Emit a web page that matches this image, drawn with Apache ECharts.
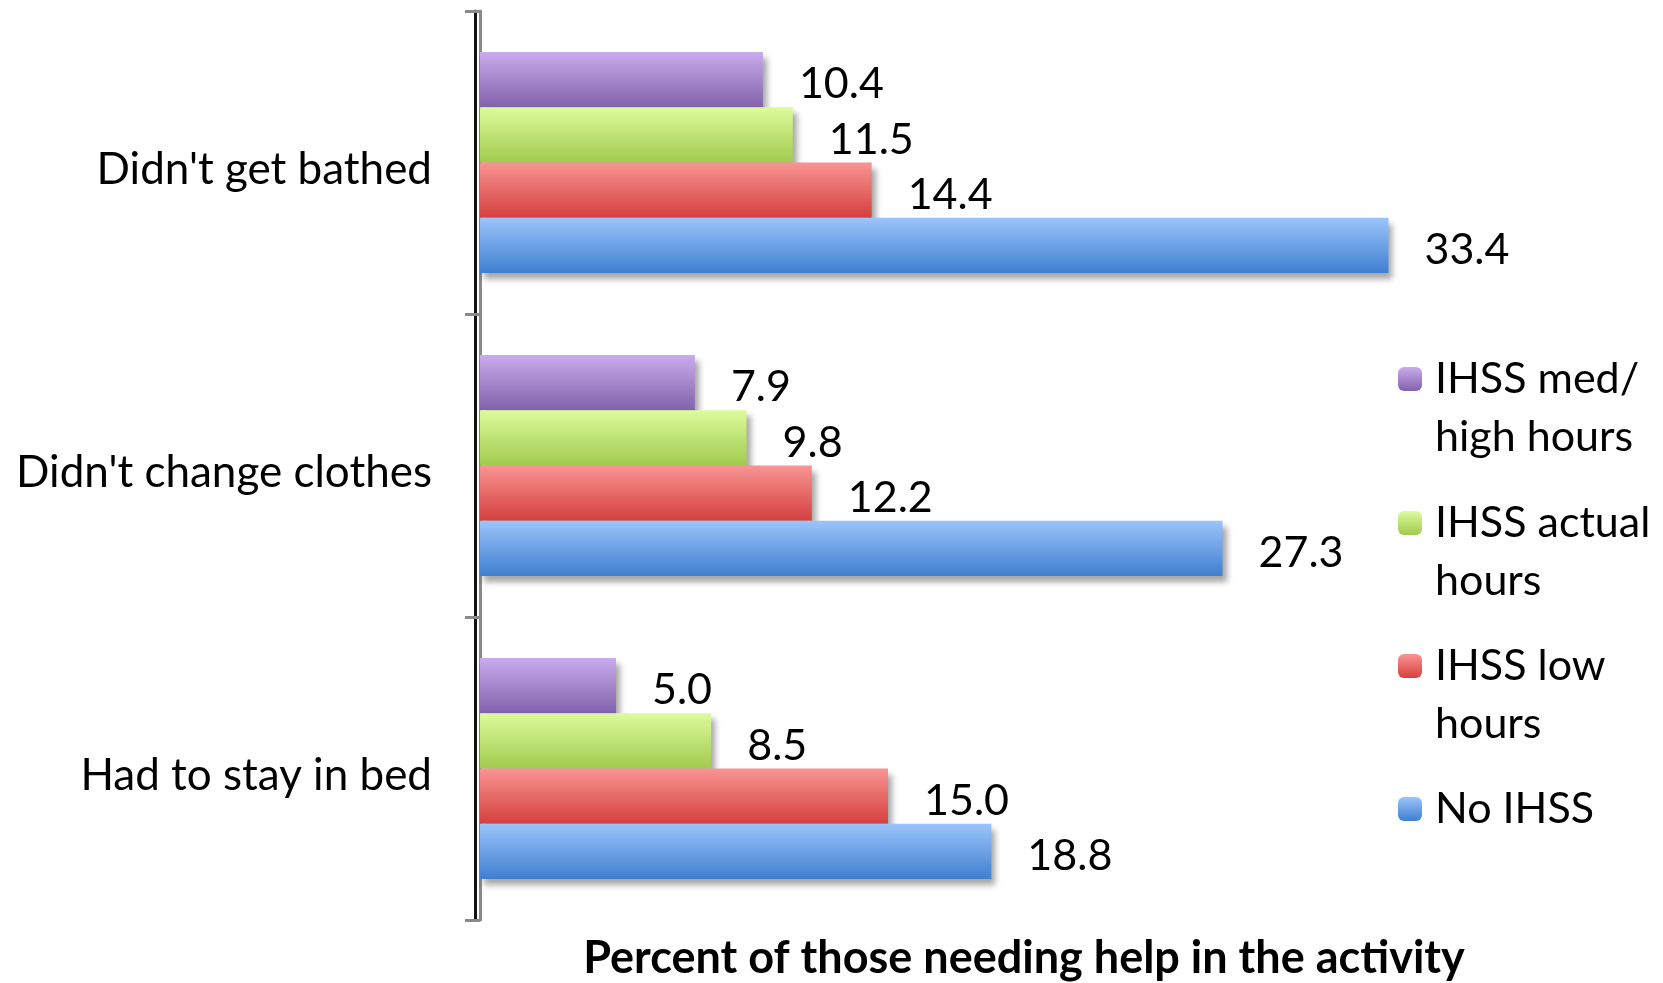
<!DOCTYPE html>
<html>
<head>
<meta charset="utf-8">
<script src="https://cdn.jsdelivr.net/npm/echarts@6/dist/echarts.min.js"></script>
<style>
  html, body { margin: 0; padding: 0; background: #fff; }
  #chart { width: 1663px; height: 983px; }
</style>
</head>
<body>
<div id="chart"></div>
<script>
// Activities (top to bottom)
const categories = ["Didn't get bathed", "Didn't change clothes", "Had to stay in bed"];
// Series names, in legend order
const seriesNames = ['IHSS med/high hours', 'IHSS actual hours', 'IHSS low hours', 'No IHSS'];
// Legend text with its line breaks
const legendLabels = ['IHSS med/\nhigh hours', 'IHSS actual\nhours', 'IHSS low\nhours', 'No IHSS'];
// Percent values per activity
const medHighHours = [10.4, 7.9, 5.0];
const actualHours = [11.5, 9.8, 8.5];
const lowHours = [14.4, 12.2, 15.0];
const noIhss = [33.4, 27.3, 18.8];
const axisTitle = 'Percent of those needing help in the activity';

const FONT = 'Lato';
const seriesValues = [medHighHours, actualHours, lowHours, noIhss];
const gradients = [
  ['#c9acec', '#8262ab'],
  ['#ddfb9c', '#a2ca4e'],
  ['#f99494', '#d4403e'],
  ['#9cc4fb', '#3f7fd0']
];
const grad = (c) => new echarts.graphic.LinearGradient(0, 0, 0, 1, [
  { offset: 0, color: c[0] }, { offset: 1, color: c[1] }
]);

const LINE_H = 58;
const legendIconCenters = [379, 523, 666, 809];

const chart = echarts.init(document.getElementById('chart'), null, { renderer: 'canvas' });

// One legend per series so each entry sits at its own height; two-line
// entries get a blank leading line so the first line lines up with the swatch.
const legends = seriesNames.map((name, i) => {
  const twoLine = legendLabels[i].indexOf('\n') >= 0;
  const half = twoLine ? 1.5 * LINE_H : 0.5 * LINE_H;
  return {
    orient: 'vertical',
    left: 1398,
    top: legendIconCenters[i] - half,
    padding: 0,
    itemWidth: 24,
    itemHeight: 24,
    itemGap: 0,
    data: [name],
    formatter: () => (twoLine ? ' \n' : '') + legendLabels[i],
    textStyle: {
      fontFamily: FONT,
      fontSize: 43,
      color: '#000',
      lineHeight: LINE_H,
      padding: [0, 0, 0, 8]
    }
  };
});

chart.setOption({
  animation: false,
  backgroundColor: '#fff',
  grid: { left: 480, top: 11, width: 1088, bottom: 63, containLabel: false, outerBoundsMode: 'none' },
  legend: legends,
  xAxis: {
    type: 'value',
    min: 0,
    max: 40,
    axisLine: { show: false },
    axisTick: { show: false },
    axisLabel: { show: false },
    splitLine: { show: false },
    name: axisTitle,
    nameLocation: 'middle',
    nameGap: 16,
    nameTextStyle: { fontFamily: FONT, fontWeight: 'bold', fontSize: 45, color: '#000' }
  },
  yAxis: {
    type: 'category',
    inverse: true,
    data: categories,
    axisLine: {
      show: true,
      lineStyle: { color: '#898989', width: 3, shadowColor: '#111', shadowOffsetX: -5, shadowBlur: 0 }
    },
    axisTick: { show: true, length: 15, lineStyle: { color: '#898989', width: 3 } },
    axisLabel: {
      margin: 48,
      formatter: (v) => '{c|' + v + '}',
      rich: {
        c: { fontFamily: FONT, fontSize: 44, color: '#000', padding: [14, 0, 0, 0] }
      }
    }
  },
  series: seriesNames.map((name, i) => ({
    name: name,
    type: 'bar',
    data: seriesValues[i],
    barGap: '0%',
    barCategoryGap: '27%',
    itemStyle: {
      color: grad(gradients[i]),
      shadowColor: 'rgba(0,0,0,0.35)',
      shadowBlur: 6,
      shadowOffsetX: 4,
      shadowOffsetY: 6
    },
    label: {
      show: true,
      position: 'right',
      distance: 36,
      offset: [0, 5],
      fontFamily: FONT,
      fontSize: 43,
      color: '#000',
      formatter: (p) => p.value.toFixed(1)
    }
  }))
});
</script>
</body>
</html>
